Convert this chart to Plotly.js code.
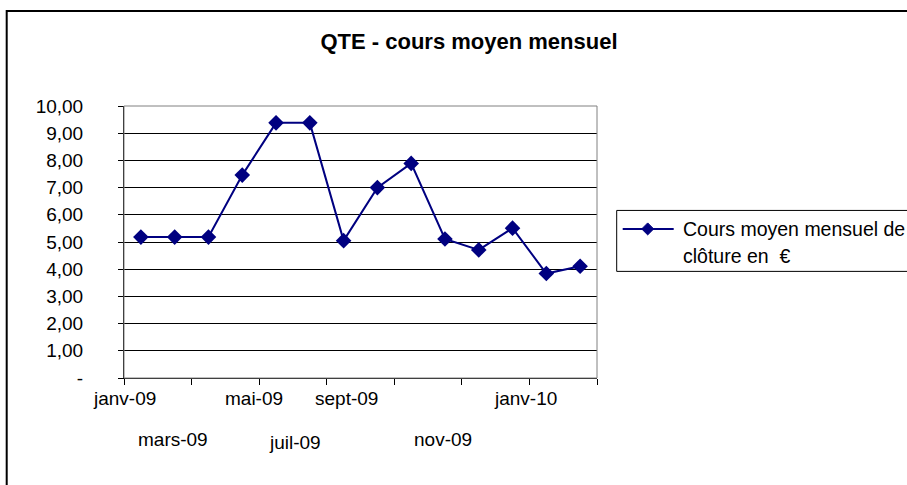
<!DOCTYPE html>
<html>
<head>
<meta charset="utf-8">
<script src="https://cdn.plot.ly/plotly-3.0.1.min.js"></script>
<style>html,body{margin:0;padding:0;background:#fff;}#chart{width:907px;height:485px;}</style>
</head>
<body>
<div id="chart"></div>
<script>
// ---- data ----
const months = ["janv-09","févr-09","mars-09","avr-09","mai-09","juin-09","juil-09","août-09","sept-09","oct-09","nov-09","déc-09","janv-10","févr-10"];
const coursMoyen = [5.18, 5.18, 5.18, 7.46, 9.38, 9.38, 5.05, 7.00, 7.89, 5.11, 4.71, 5.51, 3.84, 4.11];
const seriesName = "Cours moyen mensuel de clôture en  €";
const yTickVals = [0,1,2,3,4,5,6,7,8,9,10];
const yTickText = ["-","1,00","2,00","3,00","4,00","5,00","6,00","7,00","8,00","9,00","10,00"];
const xLabelRow1 = ["janv-09","mai-09","sept-09","janv-10"];
const xLabelRow2 = ["mars-09","juil-09","nov-09"];

// ---- layout geometry (pixels) ----
const W = 907, H = 485;
const L = 124.3, R = 597.3, T = 105.5, B = 377.7;
const px2x = p => (p - L) / (R - L);
const py2y = p => (B - p) / (B - T);
const row1X = [125, 254, 347, 526], row1Y = [398, 398, 398, 398];
const row2X = [173, 295, 443], row2Y = [439, 442, 439];

const FONT = "Liberation Sans, Arial, sans-serif";
const NAVY = "#000080";

const xIdx = months.map((_, i) => i);
const boundaries = [];
for (let i = -0.5; i <= months.length - 0.5; i += 2) boundaries.push(i);

const trace = {
  x: xIdx, y: coursMoyen, text: months, type: "scatter", mode: "lines+markers",
  name: seriesName,
  line: {color: NAVY, width: 2},
  marker: {symbol: "diamond", size: 12, color: NAVY},
  hovertemplate: "%{text}: %{y:.2f}<extra></extra>", showlegend: false
};

const annotations = [];
xLabelRow1.forEach((t, i) => annotations.push({text: t, xref: "paper", yref: "paper", x: px2x(row1X[i]), y: py2y(row1Y[i]), showarrow: false, xanchor: "center", yanchor: "middle", font: {family: FONT, size: 19, color: "#000"}}));
xLabelRow2.forEach((t, i) => annotations.push({text: t, xref: "paper", yref: "paper", x: px2x(row2X[i]), y: py2y(row2Y[i]), showarrow: false, xanchor: "center", yanchor: "middle", font: {family: FONT, size: 19, color: "#000"}}));
// legend text
annotations.push({text: "Cours moyen mensuel de", xref: "paper", yref: "paper", x: px2x(681), y: py2y(229), showarrow: false, xanchor: "left", yanchor: "middle", font: {family: FONT, size: 19.5, color: "#000"}});
annotations.push({text: "clôture en  €", xref: "paper", yref: "paper", x: px2x(681), y: py2y(256), showarrow: false, xanchor: "left", yanchor: "middle", font: {family: FONT, size: 19.5, color: "#000"}});

const lx = 648, ly = 228.5, d = 6;
const shapes = [
  // outer chart border
  {type: "rect", xref: "paper", yref: "paper", x0: px2x(7), x1: px2x(912), y0: py2y(10.5), y1: py2y(492), line: {color: "#000", width: 2}, fillcolor: "rgba(0,0,0,0)", layer: "above"},
  // plot area border (gray top/right)
  {type: "rect", xref: "paper", yref: "paper", x0: 0, x1: 1, y0: 0, y1: 1, line: {color: "#808080", width: 1}, fillcolor: "rgba(0,0,0,0)", layer: "above"},
  // legend box
  {type: "rect", xref: "paper", yref: "paper", x0: px2x(617), x1: px2x(930), y0: py2y(210), y1: py2y(271), line: {color: "#000", width: 1}, fillcolor: "rgba(0,0,0,0)", layer: "above"},
  // legend line
  {type: "line", xref: "paper", yref: "paper", x0: px2x(623), x1: px2x(674), y0: py2y(ly), y1: py2y(ly), line: {color: NAVY, width: 2}, layer: "above"},
  // legend diamond
  {type: "path", xref: "paper", yref: "paper",
   path: `M ${px2x(lx - d)} ${py2y(ly)} L ${px2x(lx)} ${py2y(ly - d)} L ${px2x(lx + d)} ${py2y(ly)} L ${px2x(lx)} ${py2y(ly + d)} Z`,
   fillcolor: NAVY, line: {color: NAVY, width: 1}, layer: "above"}
];

const layout = {
  width: W, height: H,
  margin: {l: L, r: W - R, t: T, b: H - B, pad: 0},
  paper_bgcolor: "#fff", plot_bgcolor: "#fff",
  font: {family: FONT, size: 19, color: "#000"},
  title: {text: "<b>QTE - cours moyen mensuel</b>", x: 469 / W, xanchor: "center", y: 1 - 41 / H, yanchor: "middle", yref: "container", font: {family: FONT, size: 22, color: "#000"}},
  showlegend: false,
  xaxis: {type: "linear", range: [-0.5, months.length - 0.5], tickmode: "array", tickvals: boundaries, showticklabels: false,
          ticks: "outside", ticklen: 6, tickcolor: "#000", tickwidth: 1, showline: true, linecolor: "#000", linewidth: 1,
          showgrid: false, zeroline: false, fixedrange: true},
  yaxis: {range: [0, 10], tickmode: "array", tickvals: yTickVals, ticktext: yTickText,
          ticks: "outside", ticklen: 5, tickcolor: "#000", tickwidth: 1, showline: true, linecolor: "#000", linewidth: 1,
          showgrid: true, gridcolor: "#000", gridwidth: 1, zeroline: false, ticklabelstandoff: 31,
          tickfont: {family: FONT, size: 19, color: "#000"}, fixedrange: true},
  annotations: annotations,
  shapes: shapes
};

Plotly.newPlot("chart", [trace], layout, {displayModeBar: false, staticPlot: true});
</script>
</body>
</html>
